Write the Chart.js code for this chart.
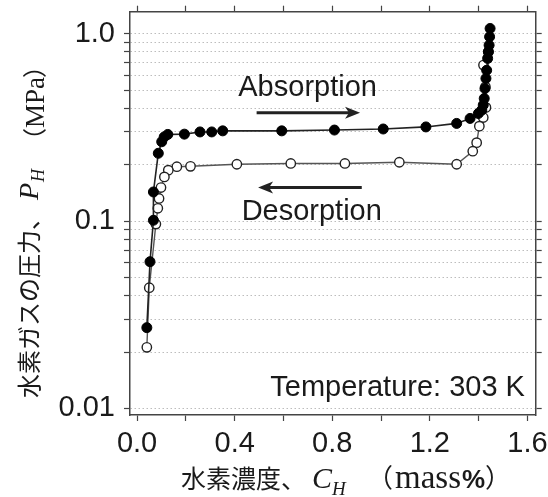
<!DOCTYPE html>
<html>
<head>
<meta charset="utf-8">
<script src="https://cdn.jsdelivr.net/npm/chart.js@4.4.0/dist/chart.umd.min.js"></script>
<style>
  html, body { margin: 0; padding: 0; background: #fff; }
</style>
</head>
<body>
<canvas id="chart" width="548" height="497"></canvas>
<script>
// hydrogen concentration (mass%) and pressure (MPa)
const absorptionC = [0.040, 0.053, 0.067, 0.067, 0.087, 0.101, 0.111, 0.126, 0.194, 0.258, 0.306, 0.351,
    0.593, 0.809, 1.009, 1.184, 1.310, 1.365, 1.399, 1.413, 1.419, 1.423, 1.426, 1.430, 1.433, 1.437,
    1.440, 1.443, 1.445, 1.447];
const absorptionP = [0.027, 0.0607, 0.101, 0.143, 0.230, 0.265, 0.281, 0.290, 0.291, 0.299, 0.299, 0.303,
    0.303, 0.306, 0.310, 0.318, 0.332, 0.353, 0.375, 0.391, 0.416, 0.451, 0.51, 0.577, 0.638, 0.738,
    0.80, 0.868, 0.962, 1.066];
const desorptionC = [1.440, 1.420, 1.428, 1.430, 1.419, 1.403, 1.392, 1.376, 1.310, 1.075, 0.852, 0.630,
    0.409, 0.219, 0.163, 0.128, 0.112, 0.098, 0.090, 0.085, 0.077, 0.050, 0.040];
const desorptionP = [0.80, 0.68, 0.52, 0.404, 0.357, 0.321, 0.262, 0.236, 0.201, 0.206, 0.203, 0.203,
    0.201, 0.196, 0.195, 0.187, 0.172, 0.151, 0.132, 0.117, 0.0964, 0.0441, 0.0212];

const xTickValues = [0, 0.2, 0.4, 0.6, 0.8, 1.0, 1.2, 1.4, 1.6];
const xLabelValues = [0, 0.4, 0.8, 1.2, 1.6];
const xLabelText = ['0.0', '0.4', '0.8', '1.2', '1.6'];
const yDecades = [0.01, 0.1];
const yLabelValues = [0.01, 0.1, 1.0];
const yLabelText = ['0.01', '0.1', '1.0'];

// minor log ticks 1..9 per decade, plus the top 1.0
const yTickValues = [];
yDecades.forEach(d => { for (let m = 1; m <= 9; m++) yTickValues.push(d * m); });
yTickValues.push(1.0);

const X_MIN = -0.029, X_MAX = 1.634;
const Y_MIN = 0.00923, Y_MAX = 1.31;

const labelFor = (v, vals, texts) => {
    const i = vals.findIndex(t => Math.abs(t - v) < 1e-6 * Math.max(1, Math.abs(t)) + 1e-9);
    return i >= 0 ? texts[i] : '';
};

const sans = '"Liberation Sans", Arial, Helvetica, sans-serif';
const serif = '"Liberation Serif", "Times New Roman", serif';
const cjk = '"Noto Sans CJK JP", sans-serif';
const ink = '#1a1a1a';
const frame = '#444';

// annotations in data units
const notes = [
    { text: 'Absorption', x: 0.699, y: 0.512, align: 'center' },
    { text: 'Desorption', x: 0.716, y: 0.112, align: 'center' },
    { text: 'Temperature: 303 K', x: 1.59, y: 0.01286, align: 'right' }
];
const arrows = [
    { from: 0.49, to: 0.914, y: 0.378 },
    { from: 0.921, to: 0.496, y: 0.151 }
];

const textPlugin = {
    id: 'texts',
    afterDraw(chart) {
        const ctx = chart.ctx;
        const xs = chart.scales.x, ys = chart.scales.y;
        ctx.save();
        ctx.fillStyle = ink;
        ctx.textBaseline = 'middle';
        ctx.font = '29px ' + sans;
        notes.forEach(n => {
            ctx.textAlign = n.align;
            ctx.fillText(n.text, xs.getPixelForValue(n.x), ys.getPixelForValue(n.y));
        });

        ctx.strokeStyle = '#222';
        ctx.lineWidth = 3;
        arrows.forEach(a => {
            const x1 = xs.getPixelForValue(a.from), x2 = xs.getPixelForValue(a.to);
            const y = ys.getPixelForValue(a.y);
            const dir = Math.sign(x2 - x1);
            ctx.beginPath();
            ctx.moveTo(x1, y);
            ctx.lineTo(x2 - dir * 10, y);
            ctx.stroke();
            ctx.beginPath();
            ctx.moveTo(x2, y);
            ctx.lineTo(x2 - dir * 15, y - 6);
            ctx.lineTo(x2 - dir * 11, y);
            ctx.lineTo(x2 - dir * 15, y + 6);
            ctx.closePath();
            ctx.fillStyle = '#222';
            ctx.fill();
        });

        // x axis title: 水素濃度、C_H （mass%）
        ctx.fillStyle = ink;
        ctx.textAlign = 'left';
        ctx.textBaseline = 'alphabetic';
        const xb = 488;
        ctx.font = '25px ' + cjk;
        ctx.fillText('水素濃度、', 181, xb);
        ctx.font = 'italic 30px ' + serif;
        ctx.fillText('C', 312, xb);
        ctx.font = 'italic 19px ' + serif;
        ctx.fillText('H', 332, xb + 7);
        ctx.font = '26px ' + cjk;
        ctx.fillText('（', 367, xb - 1);
        ctx.font = '33px ' + serif;
        ctx.fillText('mass', 395, xb);
        ctx.font = 'bold 26px ' + sans;
        ctx.fillText('%', 462, xb);
        ctx.font = '26px ' + cjk;
        ctx.fillText('）', 485, xb - 1);

        // y axis title, rotated: 水素ガスの圧力、P_H （MPa）
        ctx.translate(38, 0);
        ctx.rotate(-Math.PI / 2);
        ctx.font = '24px ' + cjk;
        ctx.fillText('水素ガスの圧力、', -398, 0);
        ctx.font = 'italic 28px ' + serif;
        ctx.fillText('P', -200, 0);
        ctx.font = 'italic 18px ' + serif;
        ctx.fillText('H', -182, 6);
        ctx.font = '24px ' + cjk;
        ctx.fillText('（', -152, 5);
        ctx.font = '27px ' + serif;
        ctx.fillText('MPa', -128, 6);
        ctx.font = '24px ' + cjk;
        ctx.fillText('）', -78, 5);
        ctx.restore();
    }
};

const toPoints = (xs, ys) => xs.map((x, i) => ({ x: x, y: ys[i] }));

const noPad = a => { a.paddingTop = 0; a.paddingBottom = 0; a.paddingLeft = 0; a.paddingRight = 0; };
const axisGrid = { drawOnChartArea: false, tickLength: 6, tickColor: frame, tickWidth: 1.2 };
const axisBorder = { color: frame, width: 1.5 };

new Chart(document.getElementById('chart'), {
    type: 'line',
    data: {
        datasets: [
            {
                label: 'Absorption',
                data: toPoints(absorptionC, absorptionP),
                borderColor: '#222',
                borderWidth: 1.6,
                pointRadius: 5,
                pointBackgroundColor: '#000',
                pointBorderColor: '#000',
                pointBorderWidth: 1,
                tension: 0
            },
            {
                label: 'Desorption',
                data: toPoints(desorptionC, desorptionP),
                borderColor: '#555',
                borderWidth: 1.4,
                pointRadius: 4.7,
                pointBackgroundColor: '#fff',
                pointBorderColor: '#222',
                pointBorderWidth: 1.4,
                tension: 0
            }
        ]
    },
    options: {
        responsive: false,
        animation: false,
        layout: { padding: 0 },
        plugins: { legend: { display: false }, tooltip: { enabled: false } },
        scales: {
            x: {
                type: 'linear', position: 'bottom', min: X_MIN, max: X_MAX,
                afterBuildTicks: a => { a.ticks = xTickValues.map(v => ({ value: v })); },
                afterFit: a => { a.height = 82; noPad(a); },
                ticks: {
                    autoSkip: false, maxRotation: 0, padding: 6, color: ink,
                    font: { family: sans, size: 29 },
                    callback: v => labelFor(v, xLabelValues, xLabelText)
                },
                grid: axisGrid,
                border: axisBorder
            },
            xTop: {
                type: 'linear', position: 'top', min: X_MIN, max: X_MAX,
                afterBuildTicks: a => { a.ticks = xTickValues.map(v => ({ value: v })); },
                afterFit: a => { a.height = 11.7; noPad(a); },
                ticks: { display: false },
                grid: axisGrid,
                border: axisBorder
            },
            y: {
                type: 'logarithmic', position: 'left', min: Y_MIN, max: Y_MAX,
                afterBuildTicks: a => { a.ticks = yTickValues.map(v => ({ value: v })); },
                afterFit: a => { a.width = 130; noPad(a); },
                ticks: {
                    autoSkip: false, padding: 9, color: ink,
                    font: { family: sans, size: 29 },
                    callback: v => labelFor(v, yLabelValues, yLabelText)
                },
                grid: { color: '#bdbdbd', lineWidth: 1, tickLength: 6, tickColor: frame, tickWidth: 1.2 },
                border: { color: frame, width: 1.5, dash: [1.5, 2.5] }
            },
            yRight: {
                type: 'logarithmic', position: 'right', min: Y_MIN, max: Y_MAX,
                afterBuildTicks: a => { a.ticks = yTickValues.map(v => ({ value: v })); },
                afterFit: a => { a.width = 12.3; noPad(a); },
                ticks: { display: false },
                grid: axisGrid,
                border: axisBorder
            }
        }
    },
    plugins: [textPlugin]
});
</script>
</body>
</html>
